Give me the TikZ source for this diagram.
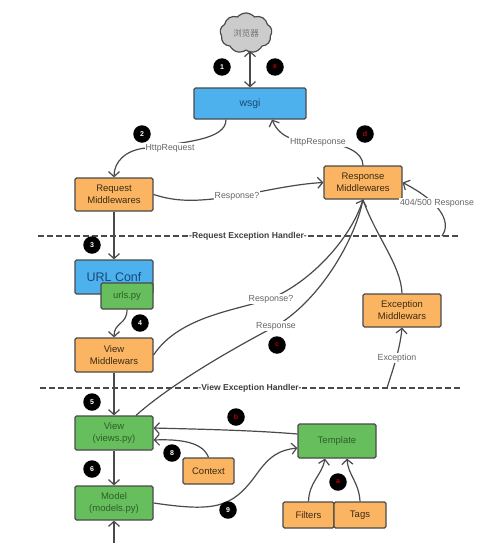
\documentclass[tikz,border=0pt]{standalone}
\usepackage{fontspec}
\setmainfont{Liberation Sans}
\newfontfamily\cjkfont{Noto Sans CJK SC}
\usetikzlibrary{arrows.meta,shapes.symbols}
\definecolor{bluefill}{HTML}{4DB1EE}
\definecolor{orangefill}{HTML}{FBB562}
\definecolor{greenfill}{HTML}{66BE5C}
\definecolor{edge}{HTML}{4A4A4A}
\definecolor{labelgray}{HTML}{666666}
\definecolor{bluetext}{HTML}{174A78}
\definecolor{greentext}{HTML}{2E5F2A}
\definecolor{orangetext}{HTML}{3A2A12}
\tikzset{
  box/.style={draw=edge,line width=1.2pt,rounded corners=1.5pt,align=center,inner sep=0pt,font=\fontsize{9.5}{12}\selectfont},
  bluebox/.style={box,fill=bluefill,text=bluetext},
  orangebox/.style={box,fill=orangefill,text=orangetext},
  greenbox/.style={box,fill=greenfill,text=greentext},
  conn/.style={draw=edge,line width=1.2pt,-{Straight Barb[length=5pt,width=11pt,line width=1.2pt]}},
  plainconn/.style={draw=edge,line width=1.2pt},
  lab/.style={fill=white,text=labelgray,inner sep=1pt,font=\fontsize{8.8}{10}\selectfont},
  badge/.style={circle,fill=black,minimum size=17.5pt,inner sep=0pt,text=white,font=\bfseries\fontsize{7}{8}\selectfont},
  redbadge/.style={badge,text=red!75!black},
  sep/.style={draw=edge,line width=1.1pt,dash pattern=on 6pt off 3pt},
  septext/.style={fill=white,inner sep=0.5pt,text=black!75,font=\bfseries\fontsize{8.6}{10}\selectfont}
}
\begin{document}
\begin{tikzpicture}[x=1pt,y=-1pt]
\useasboundingbox (0,0) rectangle (500,543);
% separators
\coordinate (s1a) at (38,236);
\coordinate (s1b) at (458,236);
\coordinate (s2a) at (40,388);
\coordinate (s2b) at (460,388);
\draw[sep] (s1a) -- (s1b);
\draw[sep] (s2a) -- (s2b);
\node[septext] (s1t) at (248,236) {-Request Exception Handler-};
\node[septext] (s2t) at (250,388) {-View Exception Handler-};
% nodes
\node[cloud,cloud puffs=9,cloud puff arc=100,aspect=1.3,draw=edge,line width=1.2pt,fill=black!20,minimum width=52pt,minimum height=40pt,inner sep=0pt,text=black!55] (cloud) at (246,33) {\cjkfont\fontsize{8.5}{10}\selectfont 浏览器};
\node[bluebox,minimum width=112pt,minimum height=31pt,font=\fontsize{10.5}{12}\selectfont] (wsgi) at (250,103.5) {wsgi};
\node[orangebox,minimum width=78pt,minimum height=33pt] (req) at (114,194.5) {Request\\Middlewares};
\node[orangebox,minimum width=78pt,minimum height=33pt] (resp) at (363,182.5) {Response\\Middlewares};
\node[bluebox,minimum width=78pt,minimum height=34pt,font=\fontsize{12.5}{14}\selectfont] (url) at (114,277) {URL Conf};
\node[greenbox,minimum width=52pt,minimum height=26pt] (urls) at (127,296) {urls.py};
\node[orangebox,minimum width=78pt,minimum height=34pt] (vm) at (114,355) {View\\Middlewars};
\node[greenbox,minimum width=78pt,minimum height=34pt] (view) at (114,433) {View\\(views.py)};
\node[greenbox,minimum width=78pt,minimum height=34pt] (model) at (114,503) {Model\\(models.py)};
\node[orangebox,minimum width=51pt,minimum height=26pt] (ctx) at (208.5,471) {Context};
\node[greenbox,minimum width=78pt,minimum height=34pt] (tpl) at (337,441) {Template};
\node[orangebox,minimum width=51pt,minimum height=26pt] (filters) at (308.5,515) {Filters};
\node[orangebox,minimum width=52pt,minimum height=26pt] (tags) at (360,515) {Tags};
\node[orangebox,minimum width=78pt,minimum height=33pt] (exc) at (402,310.5) {Exception\\Middlewars};
% free ends
\coordinate (excstart) at (387,388);
\coordinate (loopstart) at (442,236);
\coordinate (bottom) at (114,543);
% connectors
\draw[conn,{Straight Barb[length=5pt,width=11pt,line width=1.2pt]}-{Straight Barb[length=5pt,width=11pt,line width=1.2pt]}] (wsgi.north |- cloud.south) -- (wsgi.north);
\draw[conn] ([xshift=-24pt]wsgi.south) .. controls +(0,20) and +(40,-6) .. (146,148) .. controls (125,150) and (114,162) .. (req.north);
\draw[conn] (resp.north) .. controls (363,152) and (345,144) .. (320,142) .. controls (295,142) and (280,138) .. ([xshift=22pt]wsgi.south);
\draw[conn] (req.east) .. controls (180,203) and (200,201) .. (237,196) .. controls (265,191) and (295,184) .. (resp.west);
\draw[conn] (loopstart) .. controls (450,225) and (446,205) .. (resp.east);
\draw[conn] (req.south) -- (url.north);
\draw[conn] (urls.south) .. controls (127,325) and (114,322) .. (vm.north);
\draw[conn] (vm.east) .. controls (180,315) and (240,310) .. (272,298) .. controls (310,282) and (350,240) .. (resp.south);
\draw[plainconn] ([xshift=22pt]view.north) .. controls (170,385) and (230,350) .. (276,326) .. controls (320,300) and (355,240) .. (resp.south);
\draw[plainconn] (exc.north) .. controls (401,265) and (375,235) .. (resp.south);
\draw[conn] (excstart) .. controls (392,372) and (400,350) .. (exc.south);
\draw[conn] (vm.south) -- (view.north);
\draw[conn] ([yshift=7pt]tpl.west) .. controls (250,430) and (190,429) .. ([yshift=5pt]view.east);
\draw[conn] (ctx.north) .. controls (203,442) and (180,439) .. ([yshift=-7pt]view.east);
\draw[conn] (view.south) -- (model.north);
\draw[conn] (model.east) .. controls (215,512) and (232,508) .. (256,475) .. controls (270,455) and (280,450) .. ([yshift=-7pt]tpl.west);
\draw[conn] (filters.north) .. controls (309,482) and (322,475) .. ([xshift=-12pt]tpl.south);
\draw[conn] (tags.north) .. controls (359,482) and (348,475) .. ([xshift=10pt]tpl.south);
\draw[conn] (bottom) -- (model.south);
% labels
\node[lab] (l1) at (170,148) {HttpRequest};
\node[lab] (l2) at (318,142) {HttpResponse};
\node[lab] (l3) at (237,196) {Response?};
\node[lab] (l4) at (437,203) {404/500 Response};
\node[lab] (l5) at (271,299) {Response?};
\node[lab] (l6) at (276,326) {Response};
\node[lab] (l7) at (397,358) {Exception};
% badges
\node[badge] (b1) at (222,67) {1};
\node[redbadge] (be) at (275,67) {e};
\node[badge] (b2) at (142,134) {2};
\node[redbadge] (bd) at (365,134) {d};
\node[badge] (b3) at (92,245) {3};
\node[badge] (b4) at (140,323) {4};
\node[redbadge] (bc) at (277,345) {c};
\node[badge] (b5) at (92,402) {5};
\node[redbadge] (bb) at (236,417) {b};
\node[badge] (b8) at (172,453) {8};
\node[badge] (b6) at (92,469) {6};
\node[badge] (b9) at (228,510) {9};
\node[redbadge] (ba) at (338,482) {a};
\end{tikzpicture}
\end{document}
